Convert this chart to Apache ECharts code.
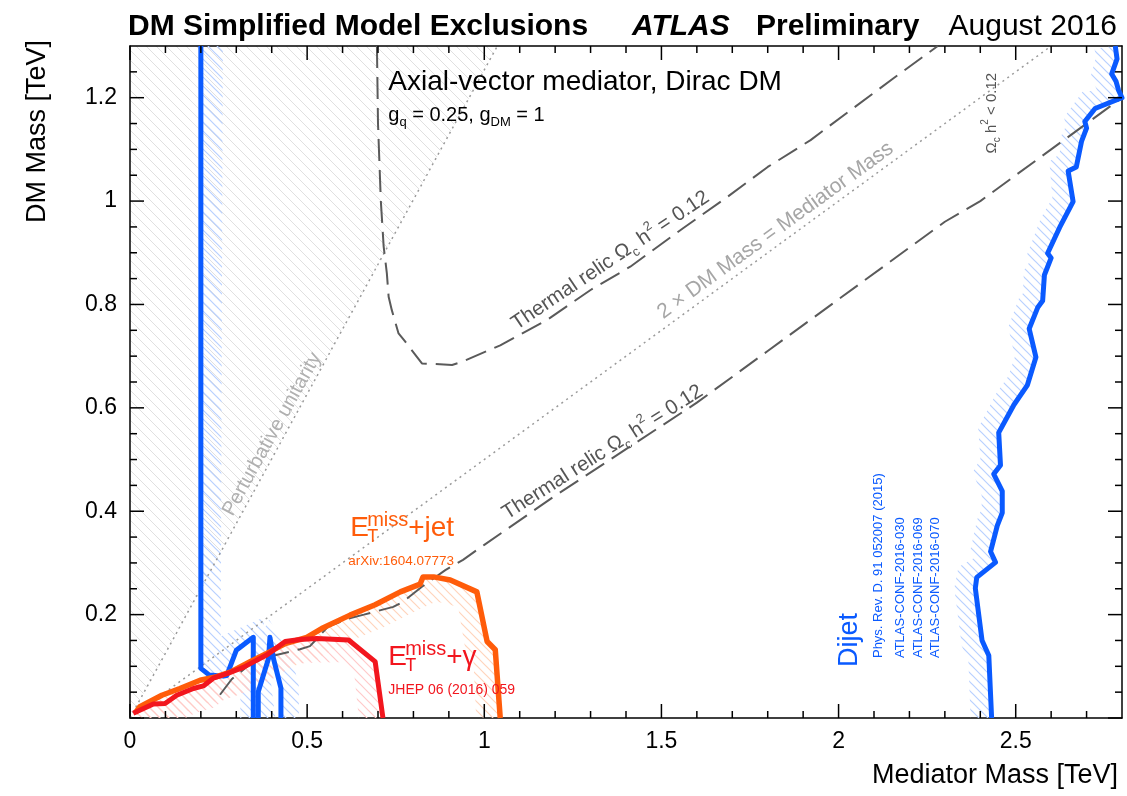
<!DOCTYPE html>
<html>
<head>
<meta charset="utf-8">
<title>DM Simplified Model Exclusions</title>
<script src="https://cdn.jsdelivr.net/npm/echarts@6.0.0/dist/echarts.min.js"></script>
<style>
  html, body { margin: 0; padding: 0; background: #fff; }
  #chart { width: 1127px; height: 796px; }
</style>
</head>
<body>
<div id="chart"></div>
<script>
var FONT = '"Liberation Sans", Arial, Helvetica, sans-serif';

// axis ranges (TeV)
var xMin = 0, xMax = 2.8, xMajor = 0.5;
var yMin = 0, yMax = 1.3, yMajor = 0.2;

// tick positions (TeV)
var xMajorTicks = [0, 0.5, 1, 1.5, 2, 2.5];
var xMinorTicks = [0.1, 0.2, 0.3, 0.4, 0.6, 0.7, 0.8, 0.9, 1.1, 1.2, 1.3, 1.4, 1.6, 1.7, 1.8, 1.9,
                   2.1, 2.2, 2.3, 2.4, 2.6, 2.7];
var yMajorTicks = [0, 0.2, 0.4, 0.6, 0.8, 1.0, 1.2];
var yMinorTicks = [0.05, 0.1, 0.15, 0.25, 0.3, 0.35, 0.45, 0.5, 0.55, 0.65, 0.7, 0.75,
                   0.85, 0.9, 0.95, 1.05, 1.1, 1.15, 1.25];

// exclusion contours [mediator mass, DM mass] in TeV
var dijetHigh = [
  [2.781, 1.300], [2.786, 1.275], [2.771, 1.246], [2.783, 1.232], [2.790, 1.215], [2.800, 1.200],
  [2.724, 1.179], [2.695, 1.154], [2.700, 1.141], [2.686, 1.116], [2.671, 1.066], [2.648, 1.058],
  [2.662, 0.999], [2.624, 0.949], [2.590, 0.899], [2.600, 0.890], [2.581, 0.857], [2.576, 0.807],
  [2.562, 0.794], [2.538, 0.753], [2.557, 0.698], [2.533, 0.644], [2.495, 0.606], [2.452, 0.552],
  [2.457, 0.489], [2.438, 0.472], [2.462, 0.439], [2.462, 0.397], [2.448, 0.372], [2.429, 0.322],
  [2.443, 0.301], [2.390, 0.272], [2.386, 0.251], [2.405, 0.150], [2.424, 0.121], [2.432, 0.000]
];
var dijetLowA = [
  [0.200, 1.300], [0.200, 0.096], [0.224, 0.083], [0.264, 0.081], [0.273, 0.082],
  [0.300, 0.131], [0.348, 0.156], [0.348, 0.000]
];
var dijetLowB = [
  [0.362, 0.000], [0.362, 0.051], [0.391, 0.115], [0.395, 0.156], [0.405, 0.115],
  [0.426, 0.058], [0.426, 0.000]
];
var monojet = [
  [0.015, 0.010], [0.028, 0.022], [0.090, 0.044], [0.141, 0.057], [0.198, 0.073], [0.245, 0.080],
  [0.287, 0.090], [0.339, 0.109], [0.386, 0.125], [0.438, 0.144], [0.499, 0.156], [0.541, 0.173],
  [0.621, 0.199], [0.692, 0.219], [0.763, 0.244], [0.819, 0.259], [0.827, 0.273], [0.857, 0.273],
  [0.904, 0.267], [0.979, 0.244], [1.008, 0.148], [1.031, 0.132], [1.045, 0.000]
];
var monophoton = [
  [0.009, 0.009], [0.066, 0.027], [0.099, 0.028], [0.132, 0.044], [0.179, 0.057], [0.207, 0.062],
  [0.235, 0.077], [0.282, 0.088], [0.320, 0.098], [0.358, 0.112], [0.386, 0.122], [0.438, 0.148],
  [0.480, 0.152], [0.527, 0.154], [0.617, 0.151], [0.692, 0.109], [0.714, 0.000]
];

// thermal relic Omega_c h^2 = 0.12 curves
var relicUpper = [
  [0.697, 1.300], [0.700, 1.150], [0.708, 1.000], [0.716, 0.912], [0.725, 0.860], [0.730, 0.815],
  [0.739, 0.789], [0.758, 0.744], [0.777, 0.728], [0.824, 0.686], [0.909, 0.683], [0.937, 0.689],
  [1.045, 0.721], [1.177, 0.770], [1.300, 0.828], [1.412, 0.873], [1.562, 0.948], [1.686, 1.008],
  [1.800, 1.066], [1.921, 1.118], [2.034, 1.176], [2.156, 1.238], [2.280, 1.300]
];
var relicLower = [
  [0.254, 0.045], [0.287, 0.075], [0.340, 0.105], [0.395, 0.119], [0.480, 0.133], [0.508, 0.139],
  [0.559, 0.177], [0.620, 0.193], [0.660, 0.200], [0.743, 0.215], [0.771, 0.225], [0.824, 0.254],
  [0.890, 0.286], [0.940, 0.306], [1.000, 0.335], [1.200, 0.430], [1.400, 0.520], [1.600, 0.610],
  [1.800, 0.710], [2.000, 0.810], [2.200, 0.910], [2.300, 0.960], [2.400, 1.000], [2.500, 1.050],
  [2.600, 1.100], [2.700, 1.150], [2.800, 1.200]
];

// reference lines
var unitarity = [[0, 0], [1.037, 1.3]];
var halfMass = [[0, 0], [2.6, 1.3]];

var BLUE = '#0a5aff', ORANGE = '#ff5c0a', RED = '#f2161e';
var relicStr = 'Thermal relic Ω{sub|c} h{sup|2} = 0.12';

// in-plot annotations, anchored at [mediator, DM] positions
var notes = [
  { at: [0.729, 1.230], text: 'Axial-vector mediator, Dirac DM', size: 28 },
  { at: [0.729, 1.166], text: 'g{sub|q} = 0.25, g{sub|DM} = 1', size: 20, lh: 28, ss: 13 },
  { at: [1.356, 0.885], text: relicStr, size: 20.5, lh: 28, ss: 13, rot: 33.9, align: 'center', color: '#555' },
  { at: [1.334, 0.514], text: relicStr, size: 20.5, lh: 28, ss: 13, rot: 32.5, align: 'center', color: '#555' },
  { at: [1.822, 0.943], text: '2 × DM Mass = Mediator Mass', size: 21, rot: 36, align: 'center', color: '#a6a6a6' },
  { at: [0.401, 0.549], text: 'Perturbative unitarity', size: 20, rot: 61, align: 'center', color: '#b0b0b0' },
  { at: [2.432, 1.170], text: 'Ω{sub|c} h{sup|2} < 0.12', size: 15, lh: 22, ss: 10, rot: 90, align: 'center', color: '#555' },
  { at: [0.616, 0.304], text: 'arXiv:1604.07773', size: 13.5, color: ORANGE },
  { at: [0.729, 0.054], text: 'JHEP 06 (2016) 059', size: 14, color: RED },
  { at: [2.030, 0.151], text: 'Dijet', size: 27, rot: 90, align: 'center', color: BLUE },
  { at: [2.113, 0.116], text: 'Phys. Rev. D. 91 052007 (2015)', size: 13, rot: 90, color: BLUE },
  { at: [2.175, 0.116], text: 'ATLAS-CONF-2016-030', size: 13, rot: 90, color: BLUE },
  { at: [2.226, 0.116], text: 'ATLAS-CONF-2016-069', size: 13, rot: 90, color: BLUE },
  { at: [2.274, 0.116], text: 'ATLAS-CONF-2016-070', size: 13, rot: 90, color: BLUE }
];
// E_T^miss + X labels (anchor = baseline-left of "E")
var metNotes = [
  { at: [0.6215, 0.348], tail: '+jet', color: ORANGE },
  { at: [0.7288, 0.0986], tail: '+γ', color: RED }
];

// hatch pattern drawn on a tiny canvas ("\" direction)
function hatch(color, gap, lw) {
  var c = document.createElement('canvas');
  c.width = gap; c.height = gap;
  var g = c.getContext('2d');
  g.strokeStyle = color; g.lineWidth = lw;
  g.beginPath();
  g.moveTo(-1, -1); g.lineTo(gap + 1, gap + 1);
  g.moveTo(-1, gap - 1); g.lineTo(1, gap + 1);
  g.moveTo(gap - 1, -1); g.lineTo(gap + 1, 1);
  g.stroke();
  return { image: c, repeat: 'repeat' };
}

// shift a pixel polyline sideways by d (positive = right of travel direction)
function offsetPts(pts, d) {
  var out = [];
  for (var i = 0; i < pts.length; i++) {
    var nx = 0, ny = 0;
    [[i - 1, i], [i, i + 1]].forEach(function (s) {
      var a = pts[s[0]], b = pts[s[1]];
      if (!a || !b) return;
      var dx = b[0] - a[0], dy = b[1] - a[1], L = Math.hypot(dx, dy) || 1;
      nx += -dy / L; ny += dx / L;
    });
    var L2 = Math.hypot(nx, ny) || 1;
    out.push([pts[i][0] + d * nx / L2, pts[i][1] + d * ny / L2]);
  }
  return out;
}

function band(points, side, width, pattern) {
  return {
    type: 'custom', clip: true, silent: true, z: 1, data: [[0, 0]],
    renderItem: function (params, api) {
      var pts = points.map(function (p) { return api.coord(p); });
      var off = offsetPts(pts, side * width).reverse();
      return { type: 'polygon', shape: { points: pts.concat(off) }, style: { fill: pattern, stroke: null } };
    }
  };
}

function contour(data, color, width) {
  return { type: 'line', data: data, symbol: 'none', showSymbol: false, clip: true, z: 5,
    lineStyle: { color: color, width: width, join: 'round' } };
}

function refLine(data, color, width, type, z) {
  return { type: 'line', data: data, symbol: 'none', showSymbol: false, clip: true, z: z,
    lineStyle: { color: color, width: width, type: type } };
}

function textEl(x, y, str, o) {
  var rich;
  if (o.ss) {
    rich = {
      sub: { fontSize: o.ss, lineHeight: o.ss, verticalAlign: 'bottom', fontFamily: FONT, fill: o.color || '#000' },
      sup: { fontSize: o.ss, lineHeight: o.ss, verticalAlign: 'top', fontFamily: FONT, fill: o.color || '#000' }
    };
  }
  return {
    type: 'text', x: x, y: y, rotation: (o.rot || 0) * Math.PI / 180, silent: true,
    style: {
      text: str, fill: o.color || '#000', fontSize: o.size || 20, fontFamily: FONT,
      fontWeight: o.weight || 'normal', fontStyle: o.italic ? 'italic' : 'normal',
      align: o.align || 'left', verticalAlign: 'middle', lineHeight: o.lh, rich: rich
    }
  };
}

// filled black bar between two pixel points (used for frame ticks)
function bar(a, b, w) {
  var x = Math.min(a[0], b[0]), y = Math.min(a[1], b[1]);
  var wd = Math.abs(b[0] - a[0]), ht = Math.abs(b[1] - a[1]);
  if (wd < w) { x -= (w - wd) / 2; wd = w; }
  if (ht < w) { y -= (w - ht) / 2; ht = w; }
  return { type: 'rect', shape: { x: x, y: y, width: wd, height: ht }, style: { fill: '#000' } };
}

// text and frame ticks; ticks placed through the axis scales
var labelSeries = {
  type: 'custom', clip: false, silent: true, z: 50, data: [[0, 0]],
  renderItem: function (params, api) {
    var tl = api.coord([xMin, yMax]), br = api.coord([xMax, yMin]);
    var kids = [];
    function xt(v, len) {
      var b = api.coord([v, yMin]), t = api.coord([v, yMax]);
      kids.push(bar(b, [b[0], b[1] - len], 1.5));
      kids.push(bar(t, [t[0], t[1] + len], 1.5));
    }
    function yt(v, len) {
      var l = api.coord([xMin, v]), r = api.coord([xMax, v]);
      kids.push(bar(l, [l[0] + len, l[1]], 1.5));
      kids.push(bar(r, [r[0] - len, r[1]], 1.5));
    }
    xMajorTicks.forEach(function (v) { xt(v, 14); });
    xMinorTicks.forEach(function (v) { xt(v, 7); });
    yMajorTicks.forEach(function (v) { yt(v, 14); });
    yMinorTicks.forEach(function (v) { yt(v, 7); });

    kids.push(
      textEl(tl[0] - 2, tl[1] - 19, 'DM Simplified Model Exclusions', { size: 30, weight: 'bold' }),
      textEl(tl[0] + 502, tl[1] - 19, 'ATLAS', { size: 30, weight: 'bold', italic: true }),
      textEl(tl[0] + 626, tl[1] - 19, 'Preliminary', { size: 30, weight: 'bold' }),
      textEl(br[0] - 5, tl[1] - 19, 'August 2016', { size: 30, align: 'right' }),
      textEl(tl[0] - 92, tl[1] - 6, 'DM Mass [TeV]', { size: 27, align: 'right', rot: 90 }),
      textEl(br[0] - 4, br[1] + 58, 'Mediator Mass [TeV]', { size: 27, align: 'right' })
    );
    notes.forEach(function (n) {
      var q = api.coord(n.at);
      kids.push(textEl(q[0], q[1], n.text, n));
    });
    metNotes.forEach(function (m) {
      var q = api.coord(m.at);
      kids.push({
        type: 'group', x: q[0], y: q[1],
        children: [
          textEl(0, -10, 'E', { size: 28, color: m.color }),
          textEl(17, -18, 'miss', { size: 20, color: m.color }),
          textEl(17, -1, 'T', { size: 18, color: m.color }),
          textEl(58, -10, m.tail, { size: 28, color: m.color })
        ]
      });
    });
    return { type: 'group', children: kids };
  }
};

function xAx(pos, labels) {
  return {
    type: 'value', position: pos, min: xMin, max: xMax, interval: xMajor,
    axisLine: { show: true, onZero: false, lineStyle: { color: '#000', width: 1.5 } },
    axisTick: { show: false }, minorTick: { show: false },
    axisLabel: { show: labels, fontSize: 23, color: '#000', fontFamily: FONT, margin: 12, showMaxLabel: false },
    splitLine: { show: false }
  };
}
function yAx(pos, labels) {
  return {
    type: 'value', position: pos, min: yMin, max: yMax, interval: yMajor,
    axisLine: { show: true, onZero: false, lineStyle: { color: '#000', width: 1.5 } },
    axisTick: { show: false }, minorTick: { show: false },
    axisLabel: { show: labels, fontSize: 23, color: '#000', fontFamily: FONT, margin: 13,
      showMaxLabel: false, showMinLabel: false },
    splitLine: { show: false }
  };
}

var chart = echarts.init(document.getElementById('chart'));

chart.setOption({
  animation: false,
  grid: { left: 130, right: 5, top: 46, bottom: 78 },
  xAxis: [xAx('bottom', true), xAx('top', false)],
  yAxis: [yAx('left', true), yAx('right', false)],
  series: [
    contour(dijetHigh, BLUE, 5),
    {
      type: 'custom', clip: true, silent: true, z: 0, data: [[0, 0]],
      renderItem: function (params, api) {
        var pts = unitarity.concat([[xMin, yMax]]).map(function (p) { return api.coord(p); });
        return { type: 'polygon', shape: { points: pts }, style: { fill: hatch('#e0e0e0', 10, 1), stroke: null } };
      }
    },
    band(dijetHigh, 1, 21, hatch('#b8d0ff', 9, 1.2)),
    band(dijetLowA, -1, 22, hatch('#b8d0ff', 9, 1.2)),
    band(dijetLowB, -1, 18, hatch('#b8d0ff', 9, 1.2)),
    band(monojet, 1, 24, hatch('#ffd4bc', 9, 1.2)),
    band(monophoton, 1, 24, hatch('#ffcaca', 9, 1.2)),
    refLine(unitarity, '#9a9a9a', 1.5, [2, 4], 2),
    refLine(halfMass, '#9a9a9a', 1.5, [2, 4], 2),
    refLine(relicUpper, '#5a5a5a', 2, [22, 9], 3),
    refLine(relicLower, '#5a5a5a', 2, [22, 9], 3),
    contour(dijetLowA, BLUE, 5),
    contour(dijetLowB, BLUE, 5),
    contour(monojet, ORANGE, 5.5),
    contour(monophoton, RED, 5),
    labelSeries
  ]
});
</script>
</body>
</html>
